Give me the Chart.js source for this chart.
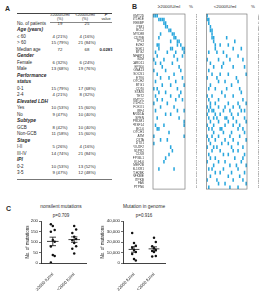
<!DOCTYPE html>
<html><head><meta charset="utf-8">
<script src="https://cdn.jsdelivr.net/npm/chart.js@4.4.0/dist/chart.umd.min.js"></script>
<style>
html,body{margin:0;padding:0;background:#fff;width:265px;height:294px;overflow:hidden;font-family:"Liberation Sans",Arial,sans-serif;color:#2a2a2a}
.t{position:absolute;white-space:nowrap;line-height:1}
canvas{position:absolute}
.hl{position:absolute;background:#555}
</style></head><body>
<div id="page"></div>
<canvas id="heatHigh" width="64" height="194" style="left:133px;top:0px;width:64px;height:194px"></canvas>
<canvas id="heatLow" width="56" height="194" style="left:203px;top:0px;width:56px;height:194px"></canvas>
<canvas id="dotNon" width="66" height="78" style="left:24px;top:216px;width:66px;height:78px"></canvas>
<canvas id="dotGen" width="70" height="78" style="left:99px;top:216px;width:70px;height:78px"></canvas>
<script>
// ---------- Panel A table data ----------
const rowLabels = ["No. of patients","Age (years)","\u2264 60","> 60","Median age","Gender","Female","Male","Performance","status","0-1","2-4","Elevated LDH","Yes","No","Subtype","GCB","Non-GCB","Stage","I-II","III-IV","IPI","0-2","3-5"];
const highCol = ["19","","4 (21%)","15 (79%)","72","","6 (32%)","13 (68%)","","","15 (79%)","4 (21%)","","10 (53%)","9 (47%)","","8 (42%)","11 (58%)","","5 (26%)","14 (74%)","","10 (53%)","9 (47%)"];
const lowCol = ["25","","4 (16%)","21 (84%)","68","","6 (24%)","19 (76%)","","","17 (68%)","8 (32%)","","15 (60%)","10 (40%)","","10 (40%)","15 (60%)","","4 (16%)","21 (84%)","","13 (52%)","12 (48%)"];
const pCol = ["","","","","0.0281","","","","","","","","","","","","","","","","","","",""];
const headingRows = [1,5,8,9,12,15,18,21];

// ---------- Panel B data ----------
const genes = ["KMT2D","HIST1H1E","CREBBP","PIM1","BCL2","MYD88","CD79B","TP53","EZH2","SGK1","BTG2","TNFAIP3","B2M","CARD11","EP300","GNA13","SOCS1","ETV6","NOTCH2","BTG1","CD70","STAT6","TET2","KMT2C","HIST1H1C","FOXO1","IRF4","ARID1A","SPEN","PRDM1","TNFRSF14","BCL6","NOTCH1","ATM","CIITA","DTX1","POU2F2","S1PR2","CD58","ZFP36L1","KLHL6","MEF2B","TBL1XR1","HIST1H2BK","NFKBIE","ITPKB","FAS","PTPN6"];
const highMut = [
"1110000000000000000","0001111000000000000","0000001100000000000","0000000110000000000",
"0000000001100000000","0000100000011000000","0001000000001100000","0000000000100011000",
"0011000000000010100","0001000000110000011","0100000010000100001","0010000000001000010",
"1000001000000010000","0100100000010000000","0000010000000001000","1000000100000000100",
"0010000000001000000","0000100001000000010","0100000000000100000","0000010000100000001",
"1010000000000010000","0001000100000000100","0100000000100001000","0010010000000100010",
"1000000010000000000","0000100000001000000","0100000000000010001","0000000100100000000",
"0010000000000001000","0000000000000000001","0100001000000000001","0011000000000000000",
"0000000001000000000","1000000000000000001","0000100010000000000","1000000000000000000",
"0000000000100000000","0000000000010000000","0000000001000000000","0000000100000000000",
"0000001000000000000","0000000000000000000","0001000000001000000","0000000000000000000",
"0000000000000000000","0000000000000000000","0000000000000000000","0000000000000000000"];
const lowMut = [
"1000000000000000000000000","1100000000000000000000000","0100000000000000000000000","0010000000000000000000000",
"0011000000000000000000000","0001000000000000000000000","0001100000001000000000000","0000100000000000010000000",
"0000010010000100000000000","0000010000000000100001000","0100001000100000000000000","0000000000001000000100000",
"1000000100000010000000100","0010000000100000000000000","0000100001000000100000010","0100000000000000000000000",
"0001000010000100000000001","1000001000000000001000000","0000000100010000000100000","0010000000000001000000000",
"0100010000001000000010000","0000000001000000000001000","1001000000010000100000000","0100000100000000000000100",
"0010010000000100000100001","1010000100010000100010000","0101100000100010000001010","1000010010000001000100000",
"0100101000011000100000010","0010000100000100001000001","1000100000010000100010000","0101000011000000000100100",
"0000100000100001000000010","1001000100000010000010000","0100010000010000100000001","0010000001000100000100000",
"1000101000000001000000100","0001000010000000100100000","0100000000100100000000010","0010010000000000010000100",
"1000000100010000000001000","0000100000000010001000001","0101000000100000000100000","0000010010000001000000010",
"0010000000000100000010000","1000001000000000100000100","0000000100010000000000001","0100000000000010000100000"];

// ---------- Panel C data ----------
const groupLabels = ["\u22652000 IU/ml","<2000 IU/ml"];
const nonsilentHigh = [184,176,157,149,110,101,78,38,33,2];
const nonsilentLow = [176,160,143,125,114,108,95,80,68,45];
const genomeHigh = [28500,19000,16500,14500,12500,10500,8500,3800,2500];
const genomeLow = [24000,20000,16000,14000,12300,11500,10500,6600,6200];
const pNonsilent = "p=0.709";
const pGenome = "p=0.916";

// ---------- helpers ----------
const page = document.getElementById('page');
function txt(s, x, y, opt={}){
  const d = document.createElement('div');
  d.className = 't';
  d.textContent = s;
  const size = opt.size || 4.6;
  d.style.fontSize = size + 'px';
  d.style.top = (y - size/2) + 'px';
  d.style.left = x + 'px';
  if (opt.bold) d.style.fontWeight = 'bold';
  if (opt.italic) d.style.fontStyle = 'italic';
  if (opt.align === 'center') d.style.transform = 'translateX(-50%)';
  if (opt.color) d.style.color = opt.color;
  page.appendChild(d);
}
function hline(x, y, w, h, color){
  const d = document.createElement('div');
  d.className = 'hl';
  d.style.left = x+'px'; d.style.top = y+'px'; d.style.width = w+'px'; d.style.height = h+'px';
  if (color) d.style.background = color;
  page.appendChild(d);
}

// Panel labels
txt("A", 5, 8, {size:7, bold:true});
txt("B", 132, 6, {size:7, bold:true});
txt("C", 6, 208, {size:7, bold:true});

// Table
hline(17, 13.3, 95, 0.8, '#444');
txt("\u22652000IU/ml", 60, 16.2, {size:3.8, align:'center'});
txt("(%)", 60, 19.8, {size:3.8, align:'center'});
txt("<2000IU/ml", 85, 16.2, {size:3.8, align:'center'});
txt("(%)", 85, 19.8, {size:3.8, align:'center'});
txt("P", 106, 16.2, {size:3.8, align:'center', bold:true, italic:true});
txt("value", 106, 19.8, {size:3.8, align:'center'});
hline(50, 21.6, 62, 0.4, '#888');
rowLabels.forEach((lab, i) => {
  const y = 24 + i*6.5;
  const head = headingRows.includes(i);
  txt(lab, 17, y, {size: head ? 4.8 : 4.5, bold: head, italic: head});
  if (highCol[i]) txt(highCol[i], 60, y, {size:4.3, align:'center'});
  if (lowCol[i]) txt(lowCol[i], 87, y, {size:4.3, align:'center'});
  if (pCol[i]) txt(pCol[i], 106, y, {size:4.3, align:'center', bold:true});
});
hline(17, 178.5, 95, 0.6, '#777');

// Heatmap headers
txt("\u22652000IU/ml", 169, 7, {size:4.4, align:'center'});
txt("%", 191, 7, {size:4.4, align:'center'});
txt("<2000IU/ml", 225, 7, {size:4.4, align:'center'});
txt("%", 253, 7, {size:4.4, align:'center'});

// Scatter titles
txt("nonsilent mutations", 61, 207, {size:4.8, align:'center'});
txt(pNonsilent, 61, 216.5, {size:4.5, align:'center'});
txt("Mutation in genome", 144, 207, {size:4.8, align:'center'});
txt(pGenome, 144, 216.5, {size:4.5, align:'center'});

// ---------- Charts ----------
const boxPlugin = {id:'box', afterDatasetsDraw(c){
  const a = c.chartArea, x = c.ctx;
  x.save(); x.strokeStyle = '#666'; x.lineWidth = 0.6;
  x.strokeRect(a.left, a.top, a.right - a.left, a.bottom - a.top);
  x.restore();
}};
function cells(rows){
  const pts = [];
  rows.forEach((r, gi) => { for (let c = 0; c < r.length; c++) if (r[c] === '1') pts.push({x:c, y:genes[gi]}); });
  return pts;
}
function pct(rows){
  return rows.map(r => Math.round(100 * [...r].filter(ch => ch === '1').length / r.length) + '%');
}
function heatChart(id, rows, showGenes){
  const n = rows[0].length;
  return new Chart(document.getElementById(id), {
    type: 'scatter',
    data: {datasets: [{data: cells(rows), pointStyle: 'line', pointRotation: 90, pointRadius: 1.8,
      pointHoverRadius: 1.8, pointBorderWidth: 1.55, pointBorderColor: '#2aa7dd', pointBackgroundColor: '#2aa7dd'}]},
    options: {
      animation: false, responsive: false, events: [],
      plugins: {legend: {display: false}, tooltip: {enabled: false}},
      layout: {padding: {top: 14, bottom: 2, left: 0, right: 0}},
      scales: {
        x: {type: 'linear', min: -0.5, max: n - 0.5, display: false},
        y: {type: 'category', labels: genes, offset: true, position: 'left', display: showGenes,
            grid: {display: false}, border: {display: false},
            ticks: {autoSkip: false, font: {size: 3.2, family: 'Liberation Sans'}, color: '#333', padding: 1},
            afterFit: s => { s.width = showGenes ? 20 : 0; }},
        y2: {type: 'category', labels: pct(rows), offset: true, position: 'right',
            grid: {display: false}, border: {display: false},
            ticks: {autoSkip: false, font: {size: 3.2, family: 'Liberation Sans'}, color: '#333', padding: 3},
            afterFit: s => { s.width = 12; }}
      }
    },
    plugins: [boxPlugin]
  });
}
heatChart('heatHigh', highMut, true);
heatChart('heatLow', lowMut, false);

function stats(a){
  const m = a.reduce((s, v) => s + v, 0) / a.length;
  const sd = Math.sqrt(a.reduce((s, v) => s + (v - m) * (v - m), 0) / (a.length - 1));
  return {m, se: sd / Math.sqrt(a.length)};
}
function seg(x1, y1, x2, y2){
  return {type: 'line', data: [{x: x1, y: y1}, {x: x2, y: y2}], borderColor: '#111', borderWidth: 0.8,
    pointRadius: 0, pointHoverRadius: 0, fill: false};
}
function dotChart(id, hi, lo, yMax, yStep, yAxisW){
  const jit = i => ((i % 3) - 1) * 0.09;
  const pts = hi.map((v, i) => ({x: 1 + jit(i), y: v})).concat(lo.map((v, i) => ({x: 2 + jit(i + 1), y: v})));
  const ds = [{type: 'scatter', data: pts, pointRadius: 1.25, pointHoverRadius: 1.25,
    pointBackgroundColor: '#111', pointBorderWidth: 0}];
  [hi, lo].forEach((arr, gi) => {
    const g = gi + 1, s = stats(arr);
    ds.push(seg(g - 0.27, s.m, g + 0.27, s.m));
    ds.push(seg(g - 0.15, s.m + s.se, g + 0.15, s.m + s.se));
    ds.push(seg(g - 0.15, s.m - s.se, g + 0.15, s.m - s.se));
    ds.push(seg(g, s.m - s.se, g, s.m + s.se));
  });
  return new Chart(document.getElementById(id), {
    type: 'scatter',
    data: {datasets: ds},
    options: {
      animation: false, responsive: false, events: [],
      plugins: {legend: {display: false}, tooltip: {enabled: false}},
      layout: {padding: {top: 5, right: 4, left: 0, bottom: 0}},
      scales: {
        x: {type: 'linear', min: 0.45, max: 2.55,
          afterBuildTicks: s => { s.ticks = [{value: 1}, {value: 2}]; },
          ticks: {callback: v => groupLabels[v - 1], minRotation: 45, maxRotation: 45, autoSkip: false,
            font: {size: 4.3, family: 'Liberation Sans'}, color: '#222', padding: 1},
          grid: {display: false}, border: {display: true, color: '#111', width: 0.8},
          afterFit: s => { s.height = 31; }},
        y: {min: 0, max: yMax,
          ticks: {stepSize: yStep, font: {size: 4.3, family: 'Liberation Sans'}, color: '#222', padding: 1},
          grid: {drawOnChartArea: false, drawTicks: true, tickLength: 2, color: '#111', lineWidth: 0.6},
          border: {display: true, color: '#111', width: 0.8},
          title: {display: true, text: 'No. of mutations', font: {size: 4.5, family: 'Liberation Sans'}, color: '#222', padding: 1},
          afterFit: s => { s.width = yAxisW; }}
      }
    }
  });
}
dotChart('dotNon', nonsilentHigh, nonsilentLow, 200, 50, 17);
dotChart('dotGen', genomeHigh, genomeLow, 40000, 10000, 24);
</script>
</body></html>
